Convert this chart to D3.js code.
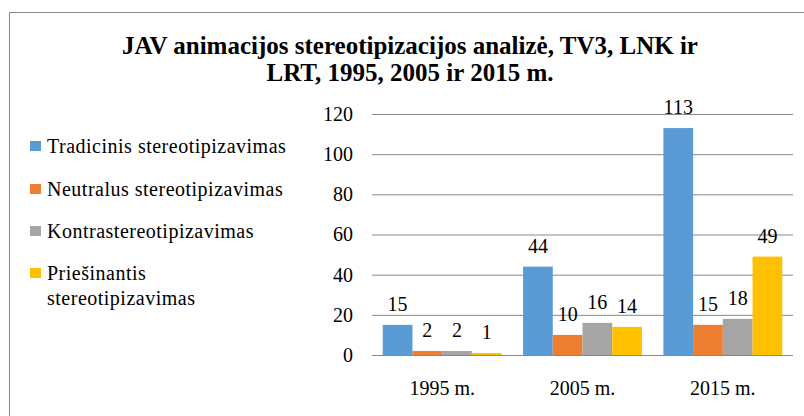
<!DOCTYPE html>
<html>
<head>
<meta charset="utf-8">
<script src="https://cdn.jsdelivr.net/npm/d3@7"></script>
<style>
  body { margin: 0; background: #fff; }
  svg { display: block; }
  svg text { font-family: "Liberation Serif", "Times New Roman", serif !important; }
</style>
</head>
<body>
<div id="chart"></div>
<script>
const years = ['1995 m.', '2005 m.', '2015 m.'];
const seriesNames = [
  'Tradicinis stereotipizavimas',
  'Neutralus stereotipizavimas',
  'Kontrastereotipizavimas',
  'Priešinantis stereotipizavimas'
];
const tradicinis = [15, 44, 113];
const neutralus = [2, 10, 15];
const kontra = [2, 16, 18];
const priesinantis = [1, 14, 49];
const yTicks = [0, 20, 40, 60, 80, 100, 120];
const colors = ['#5b9bd5', '#ed7d31', '#a5a5a5', '#ffc000'];

const seriesValues = [tradicinis, neutralus, kontra, priesinantis];

const width = 804;
const height = 416;
const plot = { left: 372, right: 793, top: 114, bottom: 355 };

const svg = d3.select('#chart').append('svg')
  .attr('width', width)
  .attr('height', height);

// frame (only top and left edges are visible)
svg.append('path')
  .attr('d', `M9.5,${height} V12.5 H${width}`)
  .attr('fill', 'none')
  .attr('stroke', '#878787')
  .attr('stroke-width', 1);

// title
const title = svg.append('text')
  .attr('text-anchor', 'middle')
  .attr('font-weight', 'bold')
  .attr('font-size', 25)
  .attr('fill', '#000');
title.append('tspan').attr('x', 410).attr('y', 54)
  .text('JAV animacijos stereotipizacijos analizė, TV3, LNK ir');
title.append('tspan').attr('x', 410).attr('y', 81)
  .text('LRT, 1995, 2005 ir 2015 m.');

const x0 = d3.scaleBand()
  .domain(years)
  .range([plot.left, plot.right])
  .paddingInner(0.153)
  .paddingOuter(0.0765);

const x1 = d3.scaleBand()
  .domain(d3.range(seriesNames.length))
  .range([0, x0.bandwidth()]);

const y = d3.scaleLinear()
  .domain([0, 120])
  .range([plot.bottom, plot.top]);

// y axis with gridlines
const yAxis = svg.append('g')
  .attr('transform', `translate(${plot.left},0)`)
  .call(d3.axisLeft(y)
    .tickValues(yTicks)
    .tickSize(-(plot.right - plot.left))
    .tickPadding(19))
  .attr('font-size', 20);
yAxis.select('.domain').remove();
yAxis.selectAll('line').attr('stroke', '#888');
yAxis.selectAll('text').attr('fill', '#000');

// bars
const rows = years.map((yr, i) => ({
  year: yr,
  values: seriesValues.map((s, k) => ({ k, v: s[i] }))
}));

const groups = svg.append('g').selectAll('g')
  .data(rows)
  .join('g')
  .attr('transform', d => `translate(${x0(d.year)},0)`);

groups.selectAll('rect')
  .data(d => d.values)
  .join('rect')
  .attr('x', d => x1(d.k))
  .attr('y', d => y(d.v))
  .attr('width', x1.bandwidth())
  .attr('height', d => y(0) - y(d.v))
  .attr('fill', d => colors[d.k]);

groups.selectAll('text')
  .data(d => d.values)
  .join('text')
  .attr('x', d => x1(d.k) + x1.bandwidth() / 2)
  .attr('y', d => y(d.v) - 14)
  .attr('text-anchor', 'middle')
  .attr('font-size', 20)
  .attr('fill', '#000')
  .text(d => d.v);

// x axis line + labels
svg.append('line')
  .attr('x1', plot.left).attr('x2', plot.right)
  .attr('y1', y(0) + 0.5).attr('y2', y(0) + 0.5)
  .attr('stroke', '#888');

const xAxis = svg.append('g')
  .attr('transform', `translate(0,${plot.bottom})`)
  .call(d3.axisBottom(x0).tickSize(0).tickPadding(26))
  .attr('font-size', 20);
xAxis.select('.domain').remove();
xAxis.selectAll('text').attr('fill', '#000');

// legend
const legendY = [146, 189, 231, 273];
const legend = svg.append('g').selectAll('g')
  .data(seriesNames)
  .join('g')
  .attr('transform', (d, i) => `translate(30,${legendY[i]})`);

legend.append('rect')
  .attr('x', 0).attr('y', -5)
  .attr('width', 11).attr('height', 10)
  .attr('fill', (d, i) => colors[i]);

legend.append('text')
  .attr('font-size', 20)
  .attr('letter-spacing', 0.5)
  .attr('fill', '#000')
  .selectAll('tspan')
  .data(d => d === 'Priešinantis stereotipizavimas' ? d.split(' ') : [d])
  .join('tspan')
  .attr('x', 17)
  .attr('y', (d, i) => 7 + i * 25)
  .text(d => d);
</script>
</body>
</html>
